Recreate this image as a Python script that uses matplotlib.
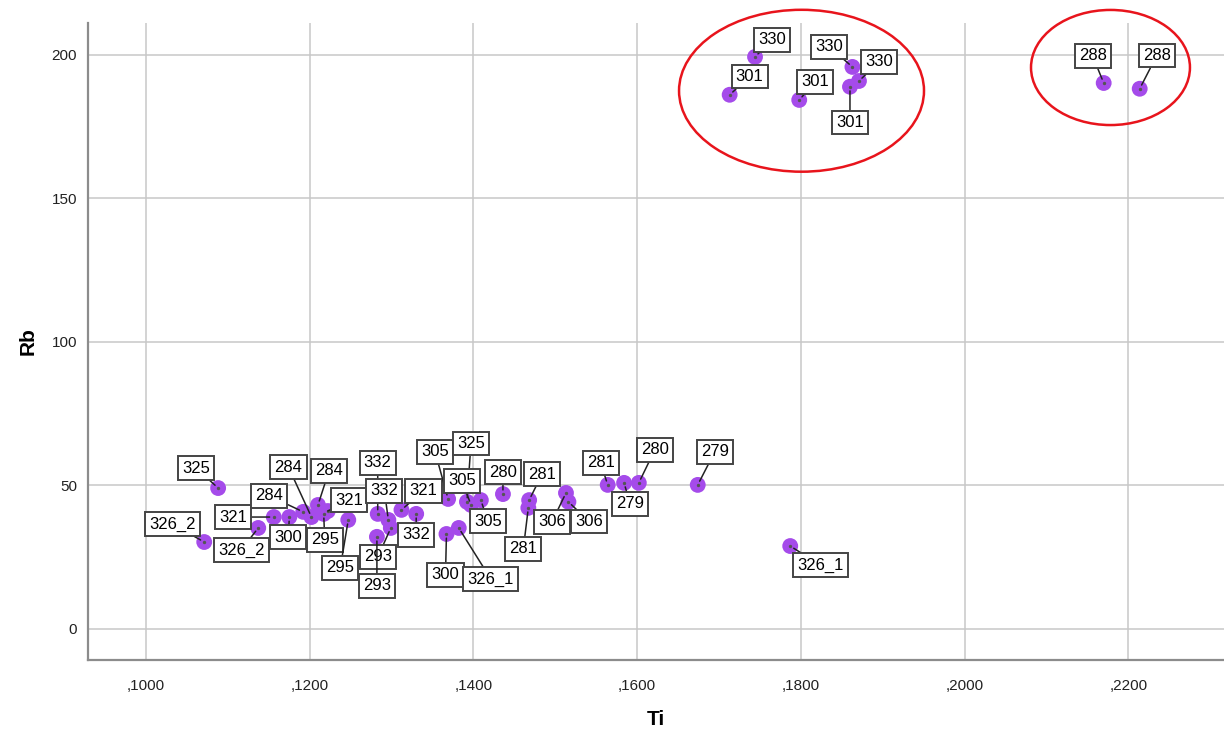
import numpy as np
import matplotlib
matplotlib.use('Agg')
import matplotlib.pyplot as plt
from matplotlib.patches import Ellipse

# Ti / Rb values
ti = [0.1088, 0.1071, 0.1137, 0.1156, 0.1175, 0.1192, 0.1202, 0.1210, 0.1217,
      0.1222, 0.1247, 0.1283, 0.1296, 0.1299, 0.1282, 0.1312, 0.1330, 0.1369,
      0.1392, 0.1397, 0.1409, 0.1367, 0.1382, 0.1436, 0.1468, 0.1467, 0.1513,
      0.1516, 0.1564, 0.1584, 0.1602, 0.1674, 0.1787,
      0.1744, 0.1713, 0.1798, 0.1863, 0.1871, 0.1860, 0.2170, 0.2214]
rb = [49.1, 30.3, 35.2, 39.0, 39.0, 40.8, 39.0, 43.2, 40.1,
      41.1, 38.0, 40.1, 38.0, 35.2, 32.1, 41.5, 40.1, 45.3,
      44.3, 43.2, 44.9, 33.1, 35.2, 47.0, 44.9, 42.2, 47.4,
      44.3, 50.2, 50.9, 50.9, 50.2, 28.9,
      199.3, 186.1, 184.3, 195.8, 190.9, 188.9, 190.2, 188.2]
labels = ['325', '326_2', '326_2', '321', '300', '284', '284', '284', '295',
          '321', '295', '332', '332', '293', '293', '321', '332', '305',
          '325', '305', '305', '300', '326_1', '280', '281', '281', '306',
          '306', '281', '279', '280', '279', '326_1',
          '330', '301', '301', '330', '330', '301', '288', '288']

# where each label box sits relative to its point (pixels)
offsets = [(-22, 20), (-32, 18), (-17, -22), (-41, 0), (-1, -20), (-34, 16),
           (-23, 50), (11, 34), (1, -26), (21, 11), (-8, -48), (0, 51),
           (-4, 29), (-13, -29), (0, -49), (22, 19), (0, -21), (-13, 47),
           (4, 58), (-9, 24), (7, -21), (-1, -41), (32, -51), (0, 22),
           (13, 26), (-5, -41), (-14, -29), (21, -20), (-7, 22), (6, -21),
           (16, 33), (17, 33), (30, -19),
           (17, 17), (20, 18), (16, 18), (-23, 20), (20, 19), (0, -36),
           (-11, 27), (17, 33)]

xticks = [0.10, 0.12, 0.14, 0.16, 0.18, 0.20, 0.22]
xticklabels = [',1000', ',1200', ',1400', ',1600', ',1800', ',2000', ',2200']
yticks = [0, 50, 100, 150, 200]

plt.rcParams['font.family'] = ['Liberation Sans', 'DejaVu Sans']

fig = plt.figure(figsize=(12.24, 7.32), dpi=100)
ax = fig.add_axes([88 / 1224, 72 / 732, 1 - 88 / 1224, (660 - 23) / 732])

ax.set_xlim(0.0929, 0.2317)
ax.set_ylim(-10.8, 211.1)
ax.set_xticks(xticks)
ax.set_xticklabels(xticklabels)
ax.set_yticks(yticks)
ax.tick_params(length=0, labelsize=11, colors='#222222', pad=8)
ax.tick_params(axis='x', pad=14)
ax.grid(True, color='#c8c8c8', lw=1.1)
ax.set_axisbelow(True)
for side in ['top', 'right']:
    ax.spines[side].set_visible(False)
for side in ['left', 'bottom']:
    ax.spines[side].set_color('#8c8c8c')
    ax.spines[side].set_linewidth(1.6)

ax.scatter(ti, rb, s=130, color='#a54bea', edgecolors='none', zorder=3)
ax.scatter(ti, rb, s=2, color='#555555', zorder=4)

for x, y, lab, (dx, dy) in zip(ti, rb, labels, offsets):
    ax.annotate(lab, (x, y), xytext=(dx, dy), textcoords='offset pixels',
                ha='center', va='center', fontsize=12, color='black',
                bbox=dict(boxstyle='square,pad=0.25', fc='white',
                          ec='#444444', lw=1.4),
                arrowprops=dict(arrowstyle='-', color='#222222', lw=1.1,
                                shrinkA=0, shrinkB=3),
                zorder=5)

# red ellipses around the high-Rb groups
ax.add_patch(Ellipse((0.18008, 187.5), 0.02993, 56.4, fill=False,
                     ec='#e8141c', lw=1.8, clip_on=False, zorder=6))
ax.add_patch(Ellipse((0.21783, 195.6), 0.01942, 40.1, fill=False,
                     ec='#e8141c', lw=1.8, clip_on=False, zorder=6))

ax.set_xlabel('Ti', fontsize=15, fontweight='bold', labelpad=12)
ax.set_ylabel('Rb', fontsize=15, fontweight='bold', labelpad=10)

plt.savefig('out.png', dpi=100)
